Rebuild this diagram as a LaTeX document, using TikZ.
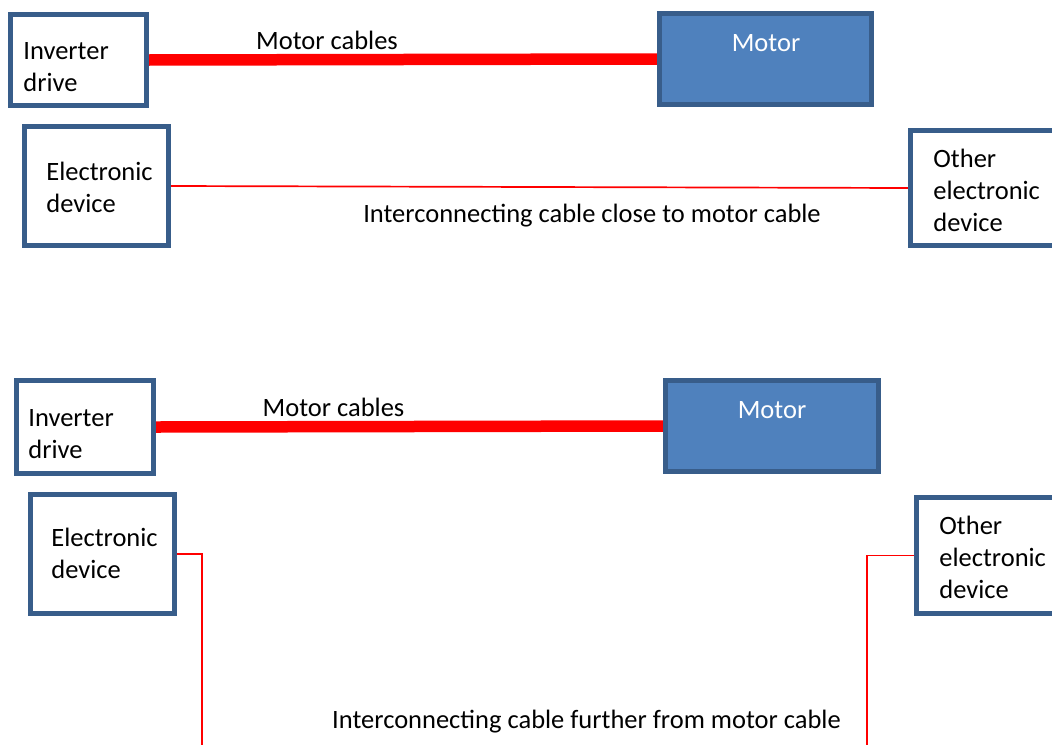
\documentclass[tikz,border=0pt]{standalone}
\usepackage{fontspec}
\setmainfont{Carlito}
\usepackage{xcolor}
\usepackage{tikz}
\usetikzlibrary{backgrounds}

\definecolor{boxblue}{HTML}{385D8A}
\definecolor{motorblue}{HTML}{4F81BD}

\begin{document}
\begin{tikzpicture}[x=0.5pt, y=-0.5pt,
    box/.style={draw=boxblue, line width=2.5pt, fill=white, inner sep=0pt},
    motorbox/.style={box, fill=motorblue},
    txt/.style={font=\fontsize{13.25}{16}\selectfont, inner sep=0pt, align=left},
    motorcable/.style={red, line width=5.75pt},
    sigcable/.style={red, line width=0.85pt}]
    \useasboundingbox (0,0) rectangle (1052,744);

    % cables close together
    \node[box, minimum width=68pt, minimum height=45.5pt] (inv1) at (78.5,60) {};
    \node[motorbox, minimum width=106pt, minimum height=45.5pt] (mot1) at (765.5,59) {};
    \node[box, minimum width=72pt, minimum height=59.5pt] (dev1) at (96.5,186) {};
    \node[box, minimum width=75pt, minimum height=57.5pt] (oth1) at (985.5,188) {};
    % base anchor sits on the last line
    \node[txt, anchor=base west] (inv1t) at (23,91) {Inverter\\drive};
    \node[txt, anchor=base west] (dev1t) at (46,212) {Electronic\\device};
    \node[txt, anchor=base west] (oth1t) at (933,231) {Other\\electronic\\device};
    \node[txt, text=white, anchor=base] (mot1t) at (766,51) {Motor};
    \node[txt, anchor=base] (mc1) at (327,49) {Motor cables};
    \node[txt, anchor=base] (ic1) at (592,222) {Interconnecting cable close to motor cable};

    % cables kept apart
    \node[box, minimum width=68.5pt, minimum height=46.5pt] (inv2) at (85,427) {};
    \node[motorbox, minimum width=106.5pt, minimum height=45.5pt] (mot2) at (772,426) {};
    \node[box, minimum width=72pt, minimum height=59.5pt] (dev2) at (102.5,554) {};
    \node[box, minimum width=75pt, minimum height=58pt] (oth2) at (991.5,555.5) {};
    \node[txt, anchor=base west] (inv2t) at (28,458) {Inverter\\drive};
    \node[txt, anchor=base west] (dev2t) at (51,578) {Electronic\\device};
    \node[txt, anchor=base west] (oth2t) at (939,598) {Other\\electronic\\device};
    \node[txt, text=white, anchor=base] (mot2t) at (772,418) {Motor};
    \node[txt, anchor=base] (mc2) at (333.5,416) {Motor cables};
    \node[txt, anchor=base] (ic2) at (586.5,728) {Interconnecting cable further from motor cable};
    \coordinate (c1) at (202,760);
    \coordinate (c2) at (867,760);

    \begin{scope}[on background layer]
        \foreach \a/\b in {inv1/mot1,inv2/mot2} {
            \draw[motorcable] (\a.east) -- (\b.west);
        }
        \draw[sigcable] (dev1.east) -- (oth1.west);
        \draw[sigcable] (dev2.east) -| (c1);
        \draw[sigcable] (oth2.west) -| (c2);
    \end{scope}
\end{tikzpicture}
\end{document}
